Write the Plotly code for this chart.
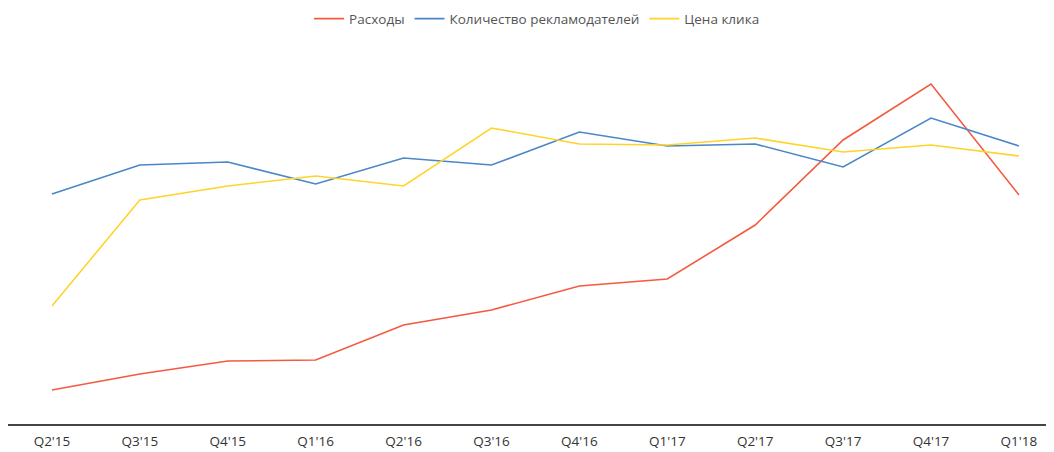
import plotly.graph_objects as go

# quarters on the x axis
quarters = ["Q2'15", "Q3'15", "Q4'15", "Q1'16", "Q2'16", "Q3'16",
            "Q4'16", "Q1'17", "Q2'17", "Q3'17", "Q4'17", "Q1'18"]

# relative index values (no y scale shown)
spend = [34, 50, 63, 64, 99, 114, 138, 145, 199, 284, 340, 229]
advertisers = [230, 259, 262, 240, 266, 259, 292, 278, 280, 257, 306, 278]
click_price = [118, 224, 238, 248, 238, 296, 280, 279, 286, 272, 279, 268]

fig = go.Figure()
fig.add_trace(go.Scatter(x=quarters, y=spend, mode="lines", name="Расходы",
                         line=dict(color="#F45A40", width=1.6)))
fig.add_trace(go.Scatter(x=quarters, y=advertisers, mode="lines",
                         name="Количество рекламодателей",
                         line=dict(color="#4A86C8", width=1.6)))
fig.add_trace(go.Scatter(x=quarters, y=click_price, mode="lines", name="Цена клика",
                         line=dict(color="#FFD42A", width=1.6)))

# page body has an 8px margin, so the margins here are shifted by that
fig.update_layout(
    width=1054, height=452,
    margin=dict(l=0, r=0, t=32, b=36, autoexpand=False),
    paper_bgcolor="white", plot_bgcolor="white",
    font=dict(family="Open Sans", size=13, color="#333"),
    showlegend=True,
    legend=dict(orientation="h", x=0.502, xanchor="center",
                y=1.055, yanchor="middle",
                font=dict(size=13.5, color="#555"), itemwidth=30),
)
fig.update_xaxes(type="category", range=[-0.5, 11.49], showgrid=False,
                 showline=True, linecolor="#444", linewidth=1.5, automargin=False,
                 ticks="", ticklabelstandoff=4, tickfont=dict(size=13.5, color="#333"))
fig.update_yaxes(range=[0, 384], visible=False, showgrid=False, zeroline=False,
                 automargin=False)

fig.write_html("out.html")
